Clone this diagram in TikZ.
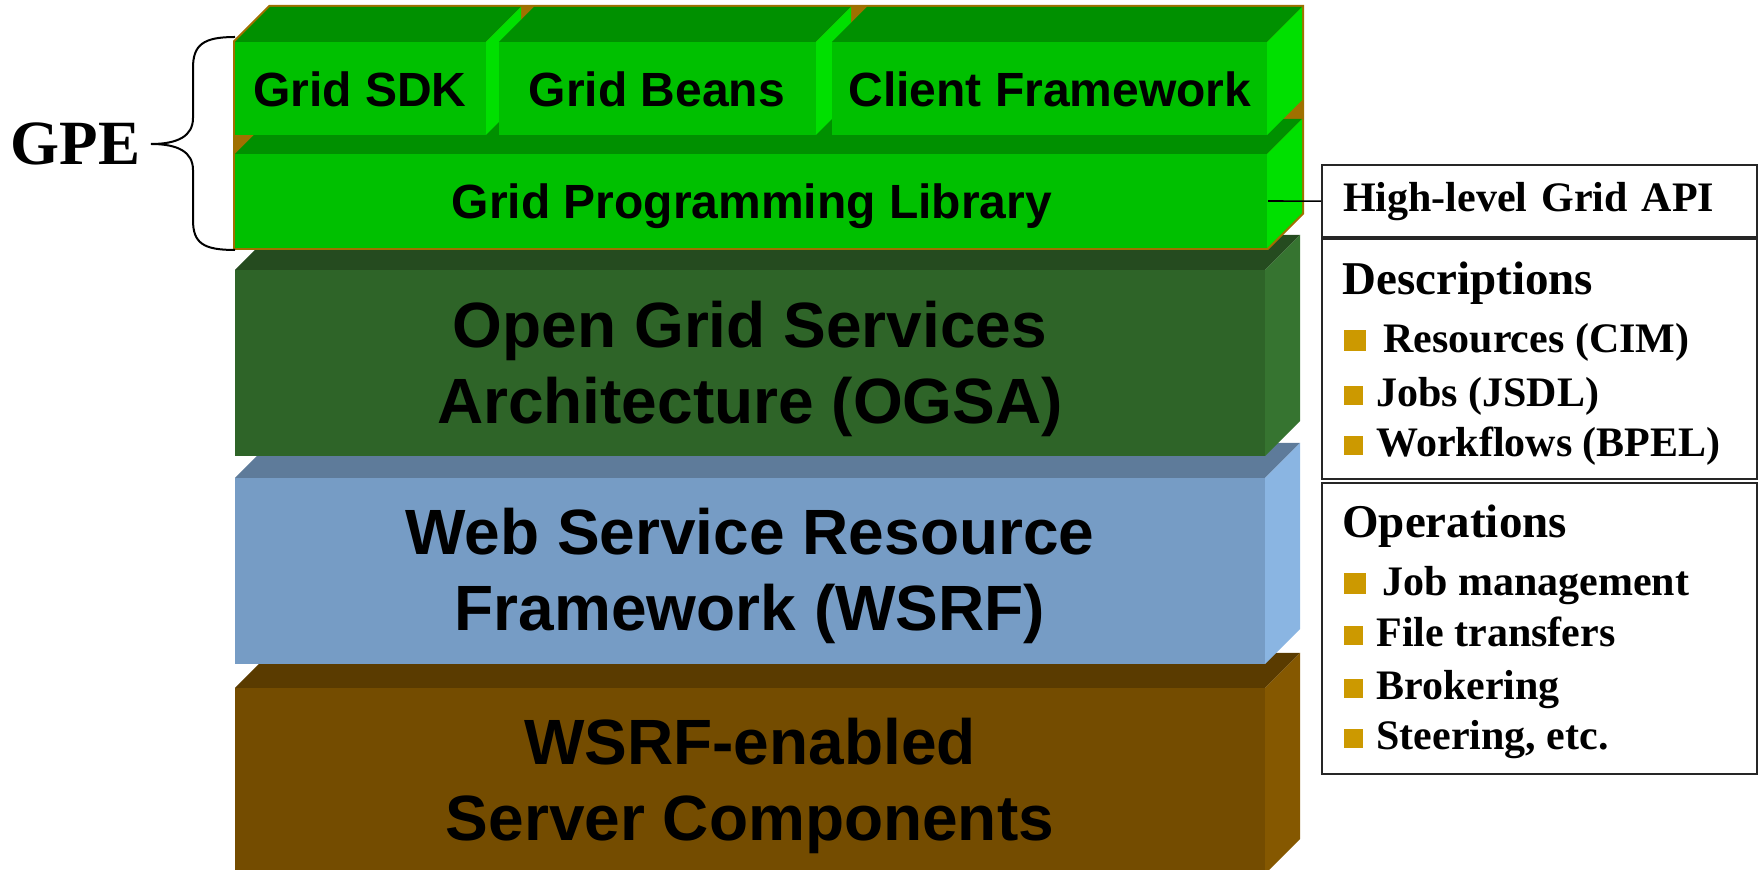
\documentclass[tikz,border=0pt]{standalone}
\usepackage{fontspec}
\setmainfont{Liberation Serif}
\setsansfont{Liberation Sans}
\definecolor{gtop}{HTML}{009000}
\definecolor{gfront}{HTML}{00C000}
\definecolor{gside}{HTML}{00E000}
\definecolor{backbrown}{HTML}{A07000}
\definecolor{ogsatop}{HTML}{254B1F}
\definecolor{ogsafront}{HTML}{2E6428}
\definecolor{ogsaside}{HTML}{367430}
\definecolor{wsrftop}{HTML}{5E7B9A}
\definecolor{wsrffront}{HTML}{769CC5}
\definecolor{wsrfside}{HTML}{8AB5E2}
\definecolor{srvtop}{HTML}{5A3B00}
\definecolor{srvfront}{HTML}{744C00}
\definecolor{srvside}{HTML}{855800}
\definecolor{bullet}{HTML}{CC9900}
\begin{document}
\begin{tikzpicture}[x=0.5pt,y=-0.5pt,
    stacktext/.style={font=\sffamily\bfseries\fontsize{24}{28}\selectfont, inner sep=0pt, anchor=base},
    bigtext/.style={font=\sffamily\bfseries\fontsize{32}{38}\selectfont, align=center, inner sep=0pt},
    headtext/.style={font=\bfseries\fontsize{23.5}{28}\selectfont, anchor=base west, inner sep=0pt},
    itemtext/.style={font=\bfseries\fontsize{21}{25}\selectfont, anchor=base west, inner sep=0pt},
    infobox/.style={draw=black!85, line width=1.2pt, anchor=north west, inner sep=0pt}]
        \useasboundingbox (0,0) rectangle (1758,870);
        % server components
        \fill[srvtop] (235,688) -- (270,653) -- (1300,653) -- (1265,688) -- cycle;
        \fill[srvfront] (235,688) rectangle (1265,874);
        \fill[srvside] (1265,688) -- (1300,653) -- (1300,839) -- (1265,874) -- cycle;
        % wsrf
        \fill[wsrftop] (235,478) -- (270,443) -- (1300,443) -- (1265,478) -- cycle;
        \fill[wsrffront] (235,478) rectangle (1265,664);
        \fill[wsrfside] (1265,478) -- (1300,443) -- (1300,629) -- (1265,664) -- cycle;
        % ogsa
        \fill[ogsatop] (235,270) -- (270,235) -- (1300,235) -- (1265,270) -- cycle;
        \fill[ogsafront] (235,270) rectangle (1265,456);
        \fill[ogsaside] (1265,270) -- (1300,235) -- (1300,421) -- (1265,456) -- cycle;
        % gpe stack
        \fill[backbrown] (233,250) -- (233,41) -- (269,5) -- (1304,5) -- (1304,214) -- (1268,250) -- cycle;
        \fill[gtop] (235,154) -- (270,119) -- (1302,119) -- (1267,154) -- cycle;
        \fill[gfront] (235,154) rectangle (1267,248);
        \fill[gside] (1267,154) -- (1302,119) -- (1302,213) -- (1267,248) -- cycle;
        \fill[gtop] (235,42) -- (270,7) -- (521,7) -- (486,42) -- cycle;
        \fill[gfront] (235,42) rectangle (486,135);
        \fill[gside] (486,42) -- (521,7) -- (521,100) -- (486,135) -- cycle;
        \fill[gtop] (499,42) -- (534,7) -- (851,7) -- (816,42) -- cycle;
        \fill[gfront] (499,42) rectangle (816,135);
        \fill[gside] (816,42) -- (851,7) -- (851,100) -- (816,135) -- cycle;
        \fill[gtop] (832,42) -- (867,7) -- (1302,7) -- (1267,42) -- cycle;
        \fill[gfront] (832,42) rectangle (1267,135);
        \fill[gside] (1267,42) -- (1302,7) -- (1302,100) -- (1267,135) -- cycle;
        \node[stacktext] (sdk) at (360,107) {Grid SDK};
        \node[stacktext] (beans) at (657,107) {Grid Beans};
        \node[stacktext] (client) at (1050,107) {Client Framework};
        \node[stacktext] (gpl) at (752,219) {Grid Programming Library};
        \node[bigtext] (ogsa) at (750,369) {Open Grid Services\\Architecture (OGSA)};
        \node[bigtext] (wsrf) at (750,576) {Web Service Resource\\Framework (WSRF)};
        \node[bigtext] (server) at (750,786) {WSRF-enabled\\Server Components};
        % GPE brace
        \node[font=\bfseries\fontsize{31.5}{36}\selectfont, anchor=base, inner sep=0pt] (gpe) at (75.5,165) {GPE};
        \draw[line width=1pt] (235,37) .. controls (203,37) and (193,45) .. (193,68) -- (193,118)
            .. controls (193,136) and (178,144) .. (151,144) .. controls (178,144) and (193,152) .. (193,170)
            -- (193,220) .. controls (193,243) and (203,250) .. (235,250);
        % right boxes
        \node[infobox, minimum width=217.5pt, minimum height=36pt, inner xsep=10.5pt, text width=196.5pt,
            align=left, font=\bfseries\fontsize{21}{25}\selectfont] (api) at (1321,164) {High-level Grid API};
        \coordinate (gplside) at (1268,201);
        \draw[line width=0.8pt] (gplside) -- (api.west);
        \node[infobox, minimum width=217.5pt, minimum height=120pt] (desc) at (1321,238) {};
        \node[infobox, minimum width=217.5pt, minimum height=145.5pt] (ops) at (1321,482) {};
        \node[headtext] (deschead) at (1342,295) {Descriptions};
        \fill[bullet] (1344,330) rectangle (1366,351);
        \node[itemtext] (res) at (1383,353) {Resources (CIM)};
        \node[itemtext] (jobs) at (1376,407) {Jobs (JSDL)};
        \node[itemtext] (wf) at (1376,457) {Workflows (BPEL)};
        \node[headtext] (ophead) at (1342,538) {Operations};
        \fill[bullet] (1344,573) rectangle (1366,594);
        \node[itemtext] (jobmgmt) at (1382,596) {Job management};
        \node[itemtext] (files) at (1376,647) {File transfers};
        \node[itemtext] (broker) at (1376,700) {Brokering};
        \node[itemtext] (steer) at (1376,750) {Steering, etc.};
        \foreach \yb in {407,457,647,700,750}
            \fill[bullet] (1344,\yb-21) rectangle (1363,\yb-2);
    \end{tikzpicture}
\end{document}
